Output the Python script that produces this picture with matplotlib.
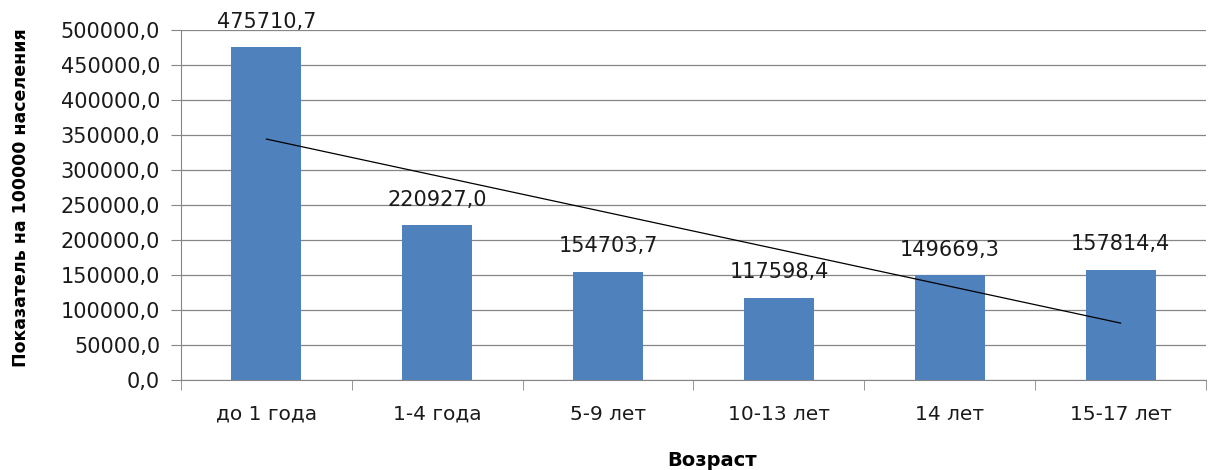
import matplotlib
matplotlib.use("Agg")
import matplotlib.pyplot as plt
import numpy as np
from matplotlib.ticker import FuncFormatter, FixedLocator

categories = ["до 1 года", "1-4 года", "5-9 лет", "10-13 лет", "14 лет", "15-17 лет"]
values = [475710.7, 220927.0, 154703.7, 117598.4, 149669.3, 157814.4]
value_labels = ["475710,7", "220927,0", "154703,7", "117598,4", "149669,3", "157814,4"]

plt.rcParams['font.family'] = ['DejaVu Sans']

fig = plt.figure(figsize=(12.08, 4.70), dpi=100)
ax = fig.add_axes([181/1208, 1-380/470, (1206-181)/1208, 350/470])

x = np.arange(len(categories))
ax.bar(x, values, width=0.41, color="#4F81BD", zorder=3)

# linear trend line
coef = np.polyfit(x, values, 1)
ax.plot(x, np.polyval(coef, x), color="black", lw=0.9, zorder=4)

for xi, v, lab in zip(x, values, value_labels):
    ax.annotate(lab, (xi, v), xytext=(0, 11), textcoords="offset points",
                ha="center", va="bottom", fontsize=15, color="#1a1a1a")

ax.set_xlim(-0.5, len(categories) - 0.5)
ax.set_ylim(0, 500000)
ax.set_yticks(np.arange(0, 500001, 50000))
ax.yaxis.set_major_formatter(FuncFormatter(lambda v, p: f"{v:.1f}".replace(".", ",")))
ax.set_xticks(x)
ax.set_xticklabels(categories)
ax.xaxis.set_minor_locator(FixedLocator(np.arange(-0.5, len(categories), 1)))
ax.tick_params(axis="x", which="major", length=0, pad=18, labelsize=14.5, labelcolor="#1a1a1a")
ax.tick_params(axis="x", which="minor", length=7, color="#868686")
ax.tick_params(axis="y", length=7, color="#868686", labelsize=15, labelcolor="#1a1a1a", pad=8)

ax.grid(axis="y", color="#868686", lw=0.9, zorder=0)
for s in ["top", "right"]:
    ax.spines[s].set_visible(False)
for s in ["left", "bottom"]:
    ax.spines[s].set_color("#868686")

ax.set_ylabel("Показатель на 100000 населения", fontsize=12.5, fontweight="bold")
ax.yaxis.set_label_coords(-0.147, 0.52)
ax.set_xlabel("Возраст", fontsize=14, fontweight="bold", va="center")
ax.xaxis.set_label_coords(0.518, -0.229)

fig.savefig("out.png", dpi=100)
